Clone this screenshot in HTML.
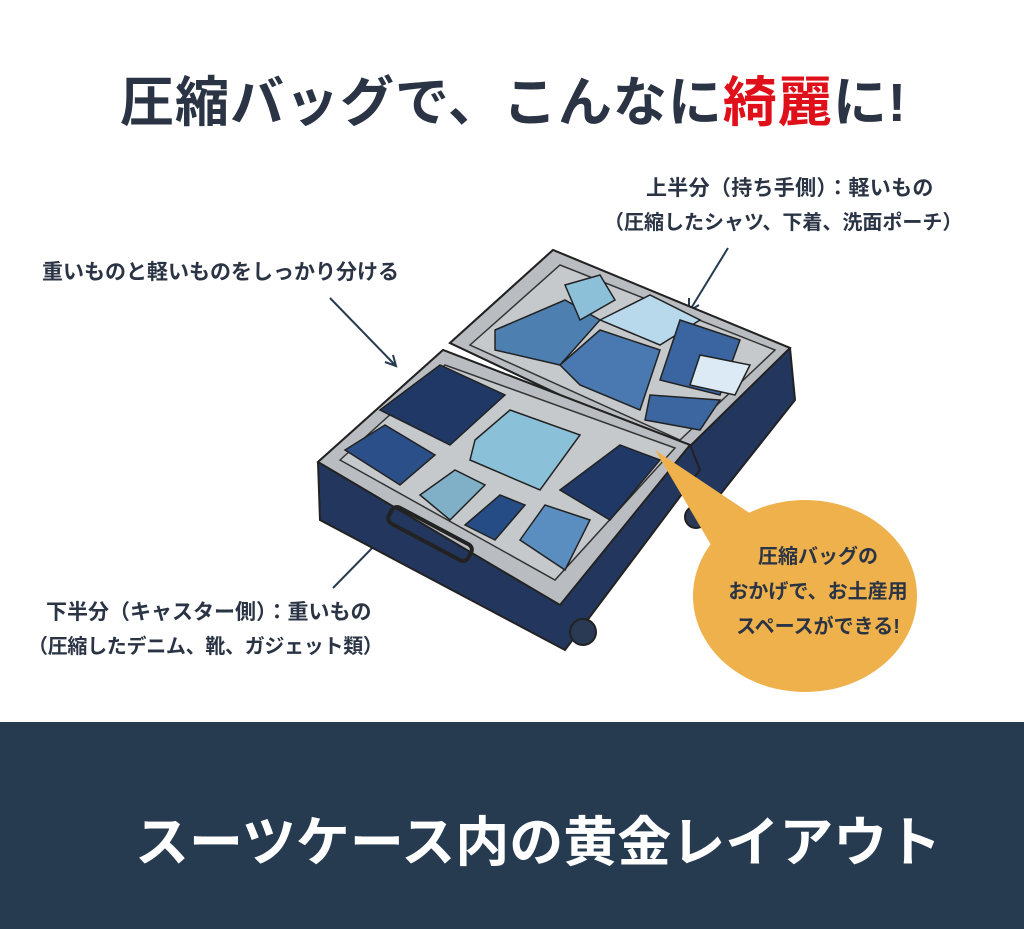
<!DOCTYPE html>
<html><head><meta charset="utf-8">
<style>
body{margin:0;width:1024px;height:929px;overflow:hidden;background:#fff;font-family:"Liberation Sans","Noto Sans CJK JP",sans-serif;position:relative}
.t{position:absolute;color:#2b3444;font-weight:bold;white-space:nowrap}
#band{position:absolute;left:0;top:722px;width:1024px;height:207px;background:#263a50}
</style></head><body>
<div class="t" style="left:120px;top:58px;font-size:54px;letter-spacing:1px">圧縮バッグで、こんなに<span style="color:#e0101a">綺麗</span>に!</div>
<div class="t" style="left:42px;top:256px;font-size:21px">重いものと軽いものをしっかり分ける</div>
<div class="t" style="left:646px;top:172px;font-size:21px;letter-spacing:0.3px">上半分（持ち手側）：軽いもの</div>
<div class="t" style="left:604px;top:206px;font-size:20px">（圧縮したシャツ、下着、洗面ポーチ）</div>
<div class="t" style="left:46px;top:596px;font-size:21px">下半分（キャスター側）：重いもの</div>
<div class="t" style="left:28px;top:630px;font-size:20px;letter-spacing:-0.3px">（圧縮したデニム、靴、ガジェット類）</div>
<svg width="1024" height="722" style="position:absolute;left:0;top:0">
<g stroke="#263a50" stroke-width="2" fill="none">
<line x1="330" y1="298" x2="395" y2="365"/><path d="M385 362 L396 366 L393 355"/>
<line x1="728" y1="248" x2="690" y2="310"/><path d="M689 298 L689 311 L699 305"/>
<line x1="333" y1="588" x2="382" y2="538"/>
</g>
<polygon points="450,343 553,250 790,348 795,400 700,520 683,453" fill="#23375e" stroke="#222" stroke-width="2"/>
<polygon points="450,343 553,250 790,348 683,453" fill="#b9bcc0" stroke="#222" stroke-width="2"/>
<polygon points="470,345 560,265 775,350 680,440" fill="#c6c9cc" stroke="#333" stroke-width="1.5"/>
<polygon points="495,330 565,300 600,320 560,365 495,350" fill="#4d7fb0" stroke="#222" stroke-width="1.5"/>
<polygon points="565,285 600,275 615,300 580,320" fill="#8cc0d8" stroke="#222" stroke-width="1.5"/>
<polygon points="600,320 650,295 700,320 660,345" fill="#b8d8ec" stroke="#222" stroke-width="1.5"/>
<polygon points="560,365 600,330 660,350 640,410 580,385" fill="#4a79b2" stroke="#222" stroke-width="1.5"/>
<polygon points="680,320 740,340 720,395 660,380" fill="#3a65a0" stroke="#222" stroke-width="1.5"/>
<polygon points="700,355 750,365 735,395 690,385" fill="#dbeaf4" stroke="#222" stroke-width="1.5"/>
<polygon points="650,395 720,400 700,430 645,420" fill="#3c66a0" stroke="#222" stroke-width="1.5"/>
<polygon points="318,462 443,350 690,445 700,470 565,650 320,520" fill="#23375e" stroke="#222" stroke-width="2"/>
<polygon points="318,462 443,350 690,445 560,605" fill="#b9bcc0" stroke="#222" stroke-width="2"/>
<polygon points="340,460 445,365 675,448 555,580" fill="#c6c9cc" stroke="#333" stroke-width="1.5"/>
<polygon points="380,410 440,365 505,395 450,445" fill="#1f3866" stroke="#222" stroke-width="1.5"/>
<polygon points="345,450 385,425 435,455 400,485" fill="#2b4f88" stroke="#222" stroke-width="1.5"/>
<polygon points="475,440 510,410 580,435 540,490 470,460" fill="#8ac0d8" stroke="#222" stroke-width="1.5"/>
<polygon points="560,490 620,445 660,460 610,520" fill="#1f3866" stroke="#222" stroke-width="1.5"/>
<polygon points="420,495 455,470 485,485 450,520" fill="#7fb0c8" stroke="#222" stroke-width="1.5"/>
<polygon points="465,525 500,495 525,505 495,540" fill="#264c86" stroke="#222" stroke-width="1.5"/>
<polygon points="520,540 545,505 590,520 565,570" fill="#5a8ec0" stroke="#222" stroke-width="1.5"/>
<rect x="385" y="525" width="90" height="18" rx="6" transform="rotate(28 430 534)" fill="none" stroke="#222" stroke-width="4"/>
<circle cx="583" cy="632" r="13" fill="#2a3a55" stroke="#222" stroke-width="2"/>
<circle cx="696" cy="517" r="11" fill="#2a3a55" stroke="#222" stroke-width="2"/>
<polygon points="655,450 760,520 720,560" fill="#eeb14c"/>
<ellipse cx="805" cy="596" rx="112" ry="96" fill="#eeb14c"/>
<g font-family="Liberation Sans,Noto Sans CJK JP,sans-serif" font-weight="bold" font-size="20" fill="#2b3444" text-anchor="middle">
<text x="818" y="563">圧縮バッグの</text>
<text x="818" y="598">おかげで、お土産用</text>
<text x="818" y="633">スペースができる!</text>
</g>
</svg>
<div id="band"></div>
<div class="t" style="left:135px;top:798px;font-size:54px;color:#fff">スーツケース内の黄金レイアウト</div>
</body></html>
